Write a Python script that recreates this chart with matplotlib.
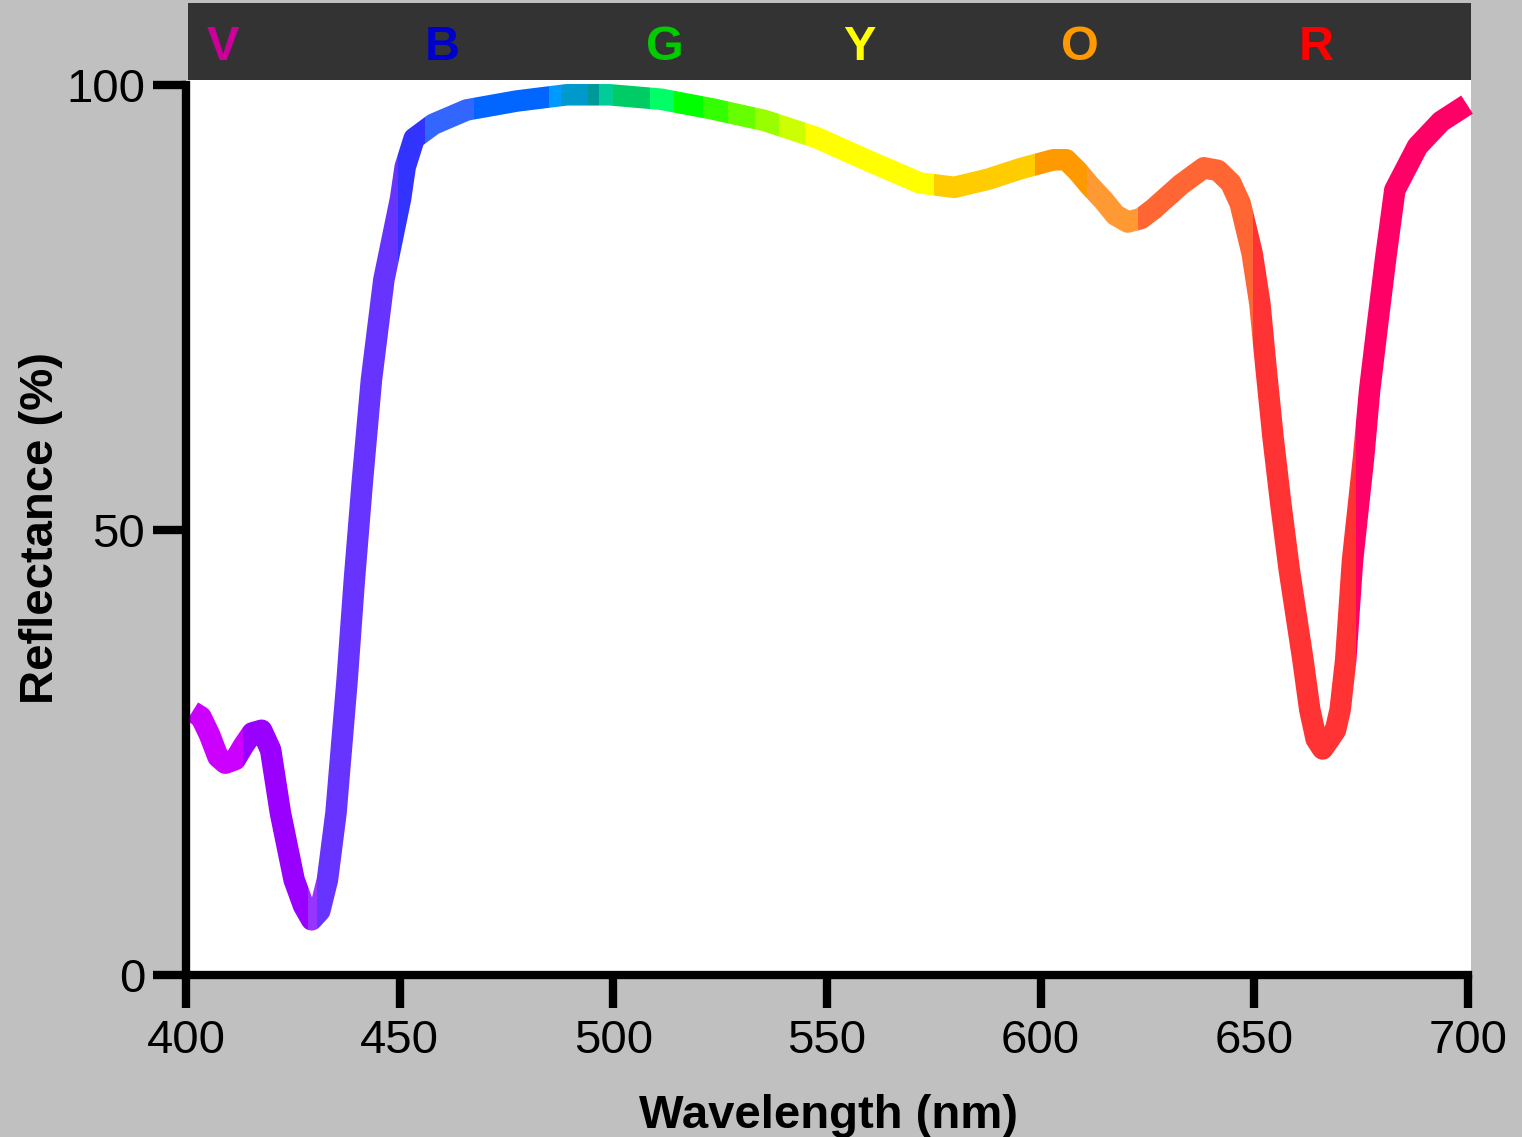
import matplotlib
matplotlib.use('Agg')
import matplotlib.pyplot as plt
from matplotlib.patches import Rectangle

plt.rcParams['font.family'] = ['Liberation Sans', 'DejaVu Sans']

# reflectance spectrum (nm, %)
WAVELENGTH = [401.5, 403.5, 405.5, 407.5, 409.2, 411.5, 413.5, 415.5, 417.7, 419.8,
              422.1, 425.3, 427.5, 429.4, 431.3, 433.1, 435.1, 437.7, 439.4, 441.3,
              443.4, 446.3, 450.2, 451.3, 453.4, 457.9, 465.7, 477.4, 489.1, 499.1,
              511.2, 523.3, 535.5, 547.5, 559.6, 571.7, 579.8, 587.6, 595.3, 603.0,
              606.0, 608.7, 611.5, 614.8, 617.5, 620.4, 623.5, 626.5, 632.8, 638.2,
              641.5, 644.5, 646.7, 649.5, 651.3, 652.8, 654.4, 656.2, 658.2, 661.4,
              663.0, 664.5, 666.0, 667.6, 669.0, 670.1, 671.4, 673.0, 675.6, 677.0,
              678.9, 680.8, 682.9, 688.2, 693.7, 699.8]
REFLECTANCE = [29.6, 29.0, 27.0, 24.5, 23.8, 24.2, 25.8, 27.2, 27.5, 25.3,
               18.2, 10.7, 7.8, 6.2, 7.2, 10.7, 18.2, 33.1, 44.4, 55.6,
               66.9, 78.1, 87.2, 90.8, 94.0, 95.6, 97.2, 98.2, 98.9, 98.9,
               98.4, 97.3, 96.0, 94.1, 91.5, 89.0, 88.5, 89.4, 90.6, 91.6,
               91.6, 90.3, 88.7, 87.0, 85.4, 84.6, 85.0, 86.1, 88.8, 90.7,
               90.4, 89.0, 86.7, 81.1, 75.5, 68.0, 60.4, 53.0, 45.5, 35.4,
               29.8, 26.5, 25.4, 26.5, 27.5, 29.8, 35.4, 46.6, 58.2, 65.7,
               73.3, 80.7, 88.2, 93.1, 95.9, 97.8]

# colour bands along the curve (edges in nm)
BAND_EDGES = [399, 413.3, 428.6, 430.6, 449.5, 455.9, 467.3, 485.0, 487.8, 494.1,
              496.6, 500.0, 508.7, 514.3, 521.0, 526.8, 533.2, 538.7, 544.9, 575.0,
              598.8, 610.8, 622.7, 649.6, 673.8, 702]
BAND_COLORS = ['#cc00ff', '#9900ff', '#9933ff', '#6633ff', '#3333ff', '#3366ff',
               '#0066ff', '#0099ff', '#0099cc', '#009999', '#00cc99', '#00cc66',
               '#00ff66', '#00ff00', '#33ff00', '#66ff00', '#99ff00', '#ccff00',
               '#ffff00', '#ffcc00', '#ff9900', '#ff9933', '#ff6633', '#ff3333',
               '#ff0066']

# letters in the dark header bar
LETTERS = ['V', 'B', 'G', 'Y', 'O', 'R']
LETTER_COLORS = ['#cc0099', '#0000cc', '#00cc00', '#ffff00', '#ff9900', '#ff0000']
LETTER_POS = [408.6, 460.0, 512.1, 557.7, 609.2, 664.5]

XTICKS = [400, 450, 500, 550, 600, 650, 700]
YTICKS = [0, 50, 100]

W, H = 1522, 1137
fig = plt.figure(figsize=(W / 100, H / 100), dpi=100, facecolor='#c0c0c0')
ax = fig.add_axes([186 / W, 162 / H, 1285 / W, 895 / H])
ax.set_facecolor('white')
ax.set_xlim(400, 400 + 1285 / 4.273)
ax.set_ylim(0, 895 / 8.9)

# header bar above the plot area
ax.add_patch(Rectangle((400.47, 100.56), 300.2, 8.7, facecolor='#333333',
                       edgecolor='none', clip_on=False, zorder=1))
for pos, letter, c in zip(LETTER_POS, LETTERS, LETTER_COLORS):
    ax.text(pos, 102.8, letter, color=c, fontsize=35, fontweight='bold',
            ha='center', va='baseline', clip_on=False, zorder=2)

# the curve, drawn once per colour band and clipped to it
for lo, hi, c in zip(BAND_EDGES[:-1], BAND_EDGES[1:], BAND_COLORS):
    ln, = ax.plot(WAVELENGTH, REFLECTANCE, color=c, lw=15.5,
                  solid_capstyle='butt', solid_joinstyle='round')
    ln.set_clip_path(Rectangle((lo, -20), hi - lo, 140, transform=ax.transData))

ax.spines[['top', 'right']].set_visible(False)
for s in ['left', 'bottom']:
    ax.spines[s].set_linewidth(6)
ax.spines['left'].set_bounds(0, 100)
ax.spines['bottom'].set_bounds(400, 700)

ax.set_xticks(XTICKS)
ax.set_yticks(YTICKS)
ax.tick_params(direction='out', length=23.5, width=6, labelsize=34)
ax.tick_params(axis='x', pad=8.5)
ax.tick_params(axis='y', pad=6)

ax.set_xlabel('Wavelength (nm)', fontsize=34, fontweight='bold', labelpad=22)
ax.set_ylabel('Reflectance (%)', fontsize=34, fontweight='bold', labelpad=2)

fig.savefig('out.png', dpi=100, facecolor=fig.get_facecolor())
